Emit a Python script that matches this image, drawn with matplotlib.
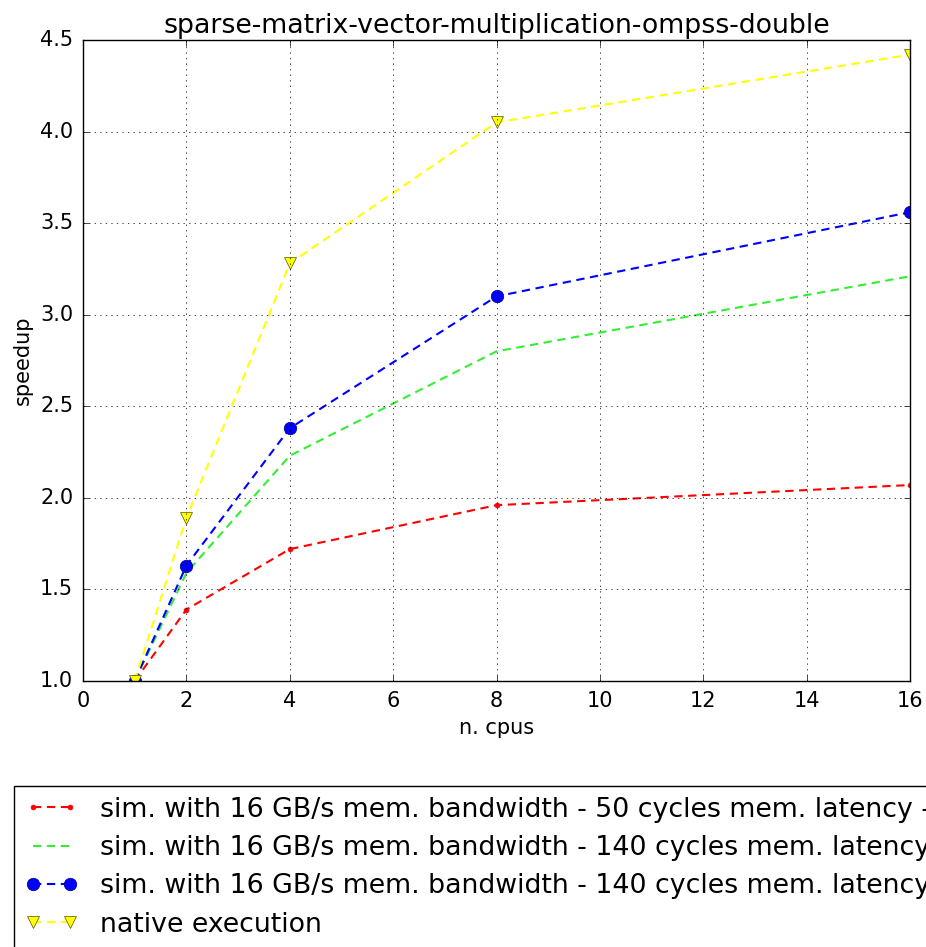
import matplotlib
matplotlib.use("Agg")
import matplotlib.pyplot as plt

plt.style.use('classic')
plt.rcParams['font.family'] = ['DejaVu Sans']
plt.rcParams['font.size'] = 15

cpus = [1, 2, 4, 8, 16]
sim_50 = [1.0, 1.39, 1.72, 1.96, 2.07]
sim_140 = [1.0, 1.59, 2.23, 2.80, 3.21]
sim_140_b = [1.0, 1.63, 2.38, 3.10, 3.56]
native = [1.0, 1.89, 3.28, 4.05, 4.42]

labels = [
    "sim. with 16 GB/s mem. bandwidth - 50 cycles mem. latency - 1",
    "sim. with 16 GB/s mem. bandwidth - 140 cycles mem. latency",
    "sim. with 16 GB/s mem. bandwidth - 140 cycles mem. latency",
    "native execution",
]

fig = plt.figure(figsize=(9.26, 9.47), dpi=100, facecolor='white')
ax = fig.add_axes([0.0896, 0.2809, 0.8934, 0.6769])

dash = (6, 4)
l1, = ax.plot(cpus, sim_50, color='red', linestyle='--', dashes=dash, lw=1.5,
              marker='.', markersize=7, markeredgecolor='red', label=labels[0])
l2, = ax.plot(cpus, sim_140, color='#33ee33', linestyle='--', dashes=dash, lw=1.5,
              marker='', label=labels[1])
l3, = ax.plot(cpus, sim_140_b, color='blue', linestyle='--', dashes=dash, lw=1.5,
              marker='o', markersize=9, markeredgecolor='#000080', label=labels[2])
l4, = ax.plot(cpus, native, color='yellow', linestyle='--', dashes=dash, lw=1.5,
              marker='v', markersize=9, markeredgecolor='#555500', label=labels[3])

ax.set_xlim(0, 16)
ax.set_ylim(1.0, 4.5)
ax.set_xticks(range(0, 17, 2))
ax.set_yticks([1.0, 1.5, 2.0, 2.5, 3.0, 3.5, 4.0, 4.5])
ax.grid(True, linestyle=':', color='black')
ax.tick_params(pad=7)
ax.set_title("sparse-matrix-vector-multiplication-ompss-double", fontsize=19.3)
ax.set_xlabel("n. cpus")
ax.set_ylabel("speedup")

fig.legend(handles=[l1, l2, l3, l4], loc='upper left',
           bbox_to_anchor=(14 / 926, 1 - 786 / 947), numpoints=2,
           fontsize=19.3, labelspacing=0.46, handlelength=2.0,
           borderaxespad=0, fancybox=False)

fig.savefig("out.png", dpi=100, facecolor='white')
